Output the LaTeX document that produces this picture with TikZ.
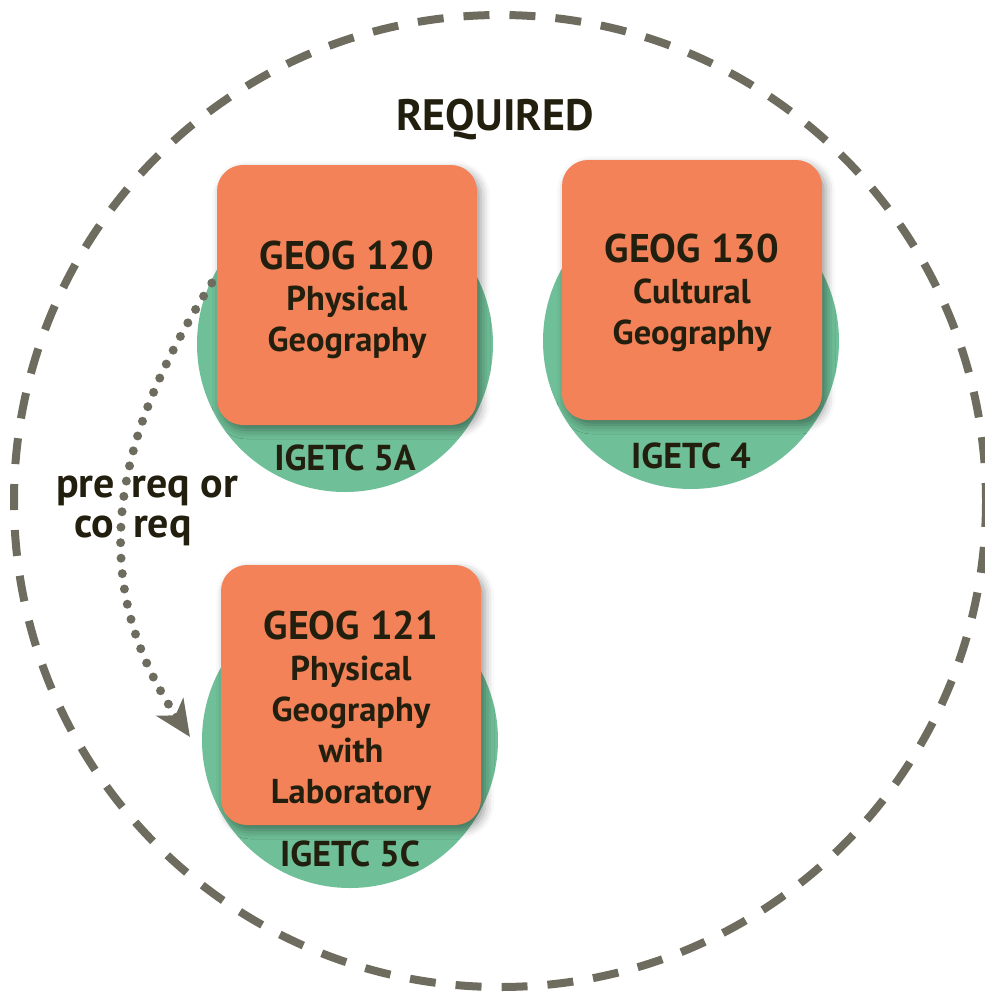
\documentclass[tikz,border=0pt]{standalone}
\usepackage{fontspec}
\setmainfont{PT Sans}
\newfontfamily\semi{PT Sans Bold}
\usetikzlibrary{shadows.blur,arrows.meta,calc}
\definecolor{orangebox}{HTML}{F38259}
\definecolor{greenc}{HTML}{6FBF98}
\definecolor{ink}{HTML}{231F0E}
\definecolor{dashc}{HTML}{6E6C5E}
\begin{document}
\begin{tikzpicture}[x=1pt,y=-1pt,
  course/.style={rectangle, draw=none, fill=orangebox, rounded corners=26pt,
    minimum width=260pt, minimum height=260pt, inner sep=0pt,
    blur shadow={shadow xshift=4pt, shadow yshift=-5pt, shadow blur radius=9pt, shadow opacity=40}},
  igetc/.style={circle, fill=greenc, minimum size=296pt, inner sep=0pt, draw=none},
  coursetext/.style={align=center, text=ink, inner sep=0pt, font=\semi\fontsize{34.5}{41}\selectfont},
  igetclabel/.style={anchor=base, text=ink, inner sep=0pt, font=\semi\fontsize{36}{40}\selectfont},
  boldlabel/.style={text=ink, inner sep=0pt, font=\bfseries\fontsize{42}{44}\selectfont},
]
\useasboundingbox (0,0) rectangle (985,994);
% outer dashed circle
\draw[dashc, line width=8pt, dash pattern=on 26pt off 20pt] (500,501) circle[radius=486];

\node[boldlabel, anchor=base, font=\bfseries\fontsize{44}{48}\selectfont] (req) at (495,130) {REQUIRED};

% green circles
\node[igetc] (c1) at (345,344) {};
\node[igetc] (c2) at (691,341) {};
\node[igetc] (c3) at (350,740) {};

\node[igetclabel] (l1) at ($(c1.center)+(0,126)$) {IGETC 5A};
\node[igetclabel] (l2) at ($(c2.center)+(0,127)$) {IGETC 4};
\node[igetclabel] (l3) at ($(c3.center)+(0,126)$) {IGETC 5C};

% course boxes
\node[course] (b1) at (347,295) {};
\node[course] (b2) at (692,290) {};
\node[course] (b3) at (351,695) {};

\node[coursetext] (t1) at ($(b1.center)+(0,5)$) {{\fontsize{40}{41}\selectfont GEOG 120}\\Physical\\Geography};
\node[coursetext] (t2) at ($(b2.center)+(0,3)$) {{\fontsize{40}{41}\selectfont GEOG 130}\\Cultural\\Geography};
\node[coursetext] (t3) at ($(b3.center)+(0,16)$) {{\fontsize{40}{41}\selectfont GEOG 121}\\Physical\\Geography\\with\\Laboratory};

% prerequisite arrow
\coordinate (s) at ($(b1.west)+(-5,-12)$);
\coordinate (e) at (190,737);
\draw[dashc, line width=9pt, line cap=round, dash pattern=on 0pt off 15.5pt,
  -{Stealth[length=36pt,width=32pt,inset=10pt]}]
  (s) .. controls (112,440) and (85,580) .. (e);

\node[boldlabel, anchor=base west] (p1) at (56,497) {pre\hspace{17pt}req or};
\node[boldlabel, anchor=base west] (p2) at (74,537) {co\hspace{19pt}req};
\end{tikzpicture}
\end{document}
